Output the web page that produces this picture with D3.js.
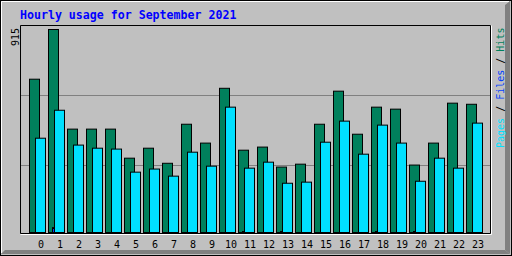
<!DOCTYPE html>
<html>
<head>
<meta charset="utf-8">
<script src="https://cdn.jsdelivr.net/npm/d3@7"></script>
<style>
  body { margin: 0; background: #fff; }
  svg { display: block; }
  text { font-family: "DejaVu Sans Mono", monospace; }
</style>
</head>
<body>
<svg id="graph" width="512" height="256"></svg>
<script>
// hourly data
const hours = d3.range(24);
const hits  = [691, 915, 466, 466, 466, 335, 380, 312, 488, 403, 650, 371,
               385, 295, 308, 488, 637, 443, 565, 556, 304, 403, 583, 578];
const files = [0, 22, 0, 0, 0, 0, 0, 0, 0, 0, 0, 3,
               0, 3, 0, 0, 0, 0, 3, 0, 3, 0, 0, 0];
const pages = [425, 551, 394, 380, 376, 272, 286, 254, 362, 299, 565, 290,
               317, 222, 227, 407, 502, 353, 484, 403, 231, 335, 290, 493];
const maxLabel = '915';
const title = 'Hourly usage for September 2021';
const legend = [['Pages', '#00e0ff'], ['Files', '#0040ff'], ['Hits', '#00805c']];

(function () {
    const svg = d3.select('#graph');
    const W = 512, H = 256;
    const frame = { left: 20, top: 25, right: 491, bottom: 234 };

    // background + raised border
    svg.append('rect').attr('width', W).attr('height', H).attr('fill', '#c0c0c0');
    svg.append('polygon').attr('points', '505,5 510,1 510,254 505,250').attr('fill', '#808080');
    svg.append('polygon').attr('points', '5,250 505,250 510,254 1,254').attr('fill', '#808080');
    svg.append('path').attr('d', 'M1.5,253V1.5H509').attr('stroke', '#fff').attr('fill', 'none');
    svg.append('rect').attr('x', 0.5).attr('y', 0.5).attr('width', W - 1).attr('height', H - 1)
        .attr('fill', 'none').attr('stroke', '#000');

    // title
    svg.append('text')
        .attr('x', 20).attr('y', 19)
        .attr('fill', '#0000ff')
        .style('font-size', '11.6px').style('font-weight', 'bold')
        .text(title);

    // plot frame (inset)
    svg.append('path')
        .attr('d', `M${frame.left + 0.5},${frame.bottom + 0.5}H${frame.right + 0.5}V${frame.top + 0.5}`)
        .attr('stroke', '#fff').attr('fill', 'none');
    svg.append('path')
        .attr('d', `M${frame.left + 0.5},${frame.bottom - 0.5}V${frame.top + 0.5}H${frame.right - 0.5}V${frame.bottom - 0.5}H${frame.left + 0.5}`)
        .attr('stroke', '#000').attr('fill', 'none');

    // grid lines at thirds of the frame
    const step = (frame.bottom - frame.top) / 3;
    svg.append('g').selectAll('line')
        .data([1, 2])
        .join('line')
        .attr('x1', frame.left + 1).attr('x2', frame.right - 1)
        .attr('y1', k => Math.ceil(frame.top + k * step) + 0.5)
        .attr('y2', k => Math.ceil(frame.top + k * step) + 0.5)
        .attr('stroke', '#808080');

    // scales
    const x = d3.scaleBand().domain(hours).range([29, 29 + 24 * 19]);
    const y = d3.scaleLinear().domain([0, 915]).range([232.5, 29.5]);

    const series = [
        { data: hits,  color: '#00805c', dx: 0.5, w: 10 },
        { data: files, color: '#0040ff', dx: 4.5, w: 2 },
        { data: pages, color: '#00e0ff', dx: 6.5, w: 10 }
    ];
    series.forEach(s => {
        svg.append('g').selectAll('rect')
            .data(hours)
            .join('rect')
            .filter(h => s.data[h] > 0)
            .attr('x', h => x(h) + s.dx)
            .attr('y', h => Math.min(y(s.data[h]), 231.5))
            .attr('width', s.w)
            .attr('height', h => Math.max(232.5 - y(s.data[h]), 1))
            .attr('fill', s.color)
            .attr('stroke', '#000');
    });

    // hour labels
    const axis = svg.append('g')
        .attr('transform', 'translate(2.5,239)')
        .call(d3.axisBottom(x).tickSize(0).tickPadding(0));
    axis.select('.domain').remove();
    axis.selectAll('text')
        .attr('dy', 0).attr('y', 9)
        .attr('fill', '#000')
        .style('font-family', '"DejaVu Sans Mono", monospace')
        .style('font-size', '10px');

    // max value label
    svg.append('text')
        .attr('transform', 'translate(19,46) rotate(-90)')
        .attr('fill', '#000')
        .style('font-size', '10px')
        .text(maxLabel);

    // legend down the right side
    const lg = svg.append('text')
        .attr('transform', 'translate(504,148) rotate(-90)')
        .style('font-size', '10px');
    legend.forEach((d, i) => {
        if (i > 0) lg.append('tspan').attr('fill', '#000').text(' / ');
        lg.append('tspan').attr('fill', d[1]).text(d[0]);
    });
}());
</script>
</body>
</html>
